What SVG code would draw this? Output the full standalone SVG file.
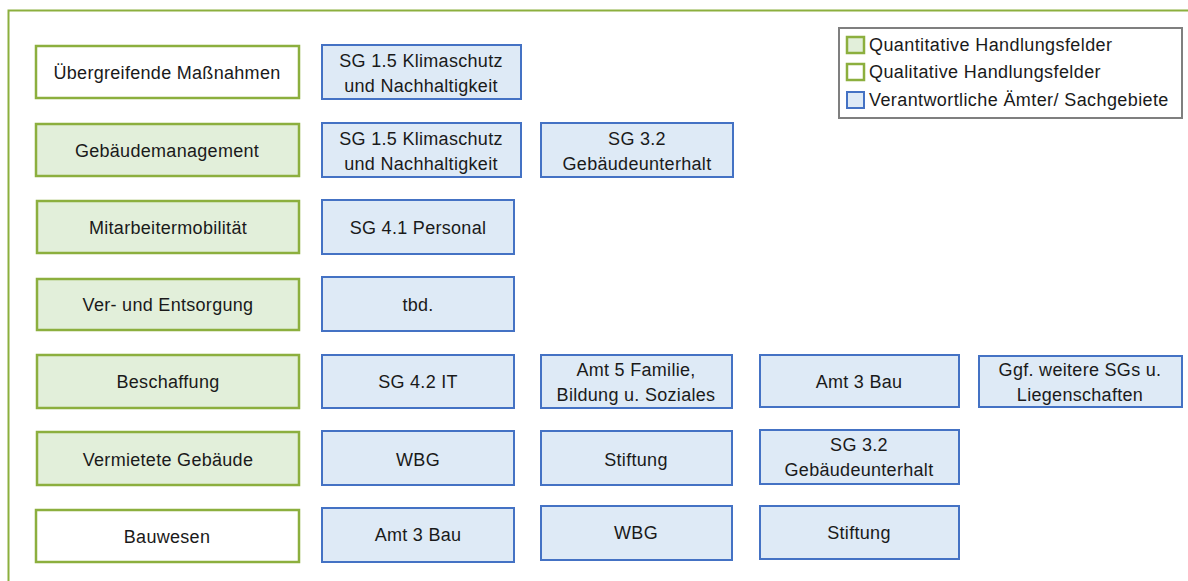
<svg xmlns="http://www.w3.org/2000/svg" width="1188" height="581" viewBox="0 0 1188 581">
<style>
text{font-family:"Liberation Sans",Arial,sans-serif;font-size:18px;letter-spacing:0.3px;fill:#1a1a1a;text-anchor:middle;dominant-baseline:central}
.q{fill:#E2EFDA;stroke:#8CAF3E;stroke-width:2.5}
.l{fill:#FFFFFF;stroke:#8CAF3E;stroke-width:2.5}
.b{fill:#DEEAF6;stroke:#4472C4;stroke-width:2}
.lg{text-anchor:start;font-size:18px;letter-spacing:0.4px}
</style>
<rect width="1188" height="581" fill="#fff"/>
<path d="M8.5 581 V10.5 H1188" fill="none" stroke="#8CAF3E" stroke-width="2"/>
<g id="legend">
<rect x="839" y="28" width="343" height="90" fill="#fff" stroke="#7F7F7F" stroke-width="2"/>
<rect class="q" x="847" y="37" width="17" height="16" stroke-width="2"/>
<text class="lg" x="869" y="45">Quantitative Handlungsfelder</text>
<rect class="l" x="847" y="64" width="17" height="16" stroke-width="2"/>
<text class="lg" x="869" y="72">Qualitative Handlungsfelder</text>
<rect class="b" x="847" y="92" width="17" height="16"/>
<text class="lg" x="869" y="100">Verantwortliche Ämter/ Sachgebiete</text>
</g>
<g id="r1">
<g id="n1"><rect class="l" x="36" y="46" width="263" height="52"/><text x="167" y="73">Übergreifende Maßnahmen</text></g>
<g id="n1a"><rect class="b" x="322" y="45" width="199" height="54"/><text x="421" y="61">SG 1.5 Klimaschutz</text><text x="421" y="86">und Nachhaltigkeit</text></g>
</g>
<g id="r2">
<g id="n2"><rect class="q" x="36" y="124" width="263" height="52"/><text x="167" y="151">Gebäudemanagement</text></g>
<g id="n2a"><rect class="b" x="322" y="123" width="199" height="54"/><text x="421" y="139">SG 1.5 Klimaschutz</text><text x="421" y="164">und Nachhaltigkeit</text></g>
<g id="n2b"><rect class="b" x="541" y="123" width="192" height="54"/><text x="637" y="139">SG 3.2</text><text x="637" y="164">Gebäudeunterhalt</text></g>
</g>
<g id="r3">
<g id="n3"><rect class="q" x="37" y="201" width="262" height="52"/><text x="168" y="228">Mitarbeitermobilität</text></g>
<g id="n3a"><rect class="b" x="322" y="200" width="192" height="54"/><text x="418" y="228">SG 4.1 Personal</text></g>
</g>
<g id="r4">
<g id="n4"><rect class="q" x="37" y="279" width="262" height="51"/><text x="168" y="305">Ver- und Entsorgung</text></g>
<g id="n4a"><rect class="b" x="322" y="277" width="192" height="54"/><text x="418" y="305">tbd.</text></g>
</g>
<g id="r5">
<g id="n5"><rect class="q" x="37" y="355" width="262" height="53"/><text x="168" y="382">Beschaffung</text></g>
<g id="n5a"><rect class="b" x="322" y="355" width="192" height="53"/><text x="418" y="382">SG 4.2 IT</text></g>
<g id="n5b"><rect class="b" x="541" y="355" width="191" height="53"/><text x="636" y="370">Amt 5 Familie,</text><text x="636" y="395">Bildung u. Soziales</text></g>
<g id="n5c"><rect class="b" x="760" y="355" width="199" height="52"/><text x="859" y="382">Amt 3 Bau</text></g>
<g id="n5d"><rect class="b" x="979" y="356" width="203" height="51"/><text x="1080" y="370">Ggf. weitere SGs u.</text><text x="1080" y="395">Liegenschaften</text></g>
</g>
<g id="r6">
<g id="n6"><rect class="q" x="37" y="432" width="262" height="53"/><text x="168" y="460">Vermietete Gebäude</text></g>
<g id="n6a"><rect class="b" x="322" y="431" width="192" height="54"/><text x="418" y="460">WBG</text></g>
<g id="n6b"><rect class="b" x="541" y="431" width="191" height="54"/><text x="636" y="460">Stiftung</text></g>
<g id="n6c"><rect class="b" x="760" y="430" width="199" height="54"/><text x="859" y="445">SG 3.2</text><text x="859" y="470">Gebäudeunterhalt</text></g>
</g>
<g id="r7">
<g id="n7"><rect class="l" x="36" y="510" width="263" height="52"/><text x="167" y="537">Bauwesen</text></g>
<g id="n7a"><rect class="b" x="322" y="508" width="192" height="54"/><text x="418" y="535">Amt 3 Bau</text></g>
<g id="n7b"><rect class="b" x="541" y="506" width="191" height="54"/><text x="636" y="533">WBG</text></g>
<g id="n7c"><rect class="b" x="760" y="506" width="199" height="53"/><text x="859" y="533">Stiftung</text></g>
</g>
<g id="connectors"/>
</svg>
